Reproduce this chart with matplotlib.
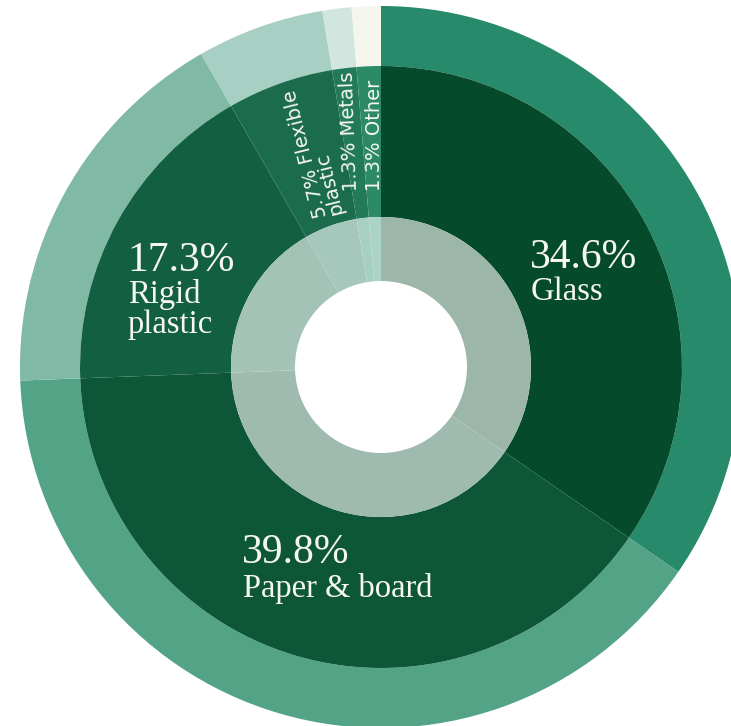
import numpy as np
import matplotlib.pyplot as plt

# Packaging material shares (%), clockwise from 12 o'clock
materials = ["Glass", "Paper & board", "Rigid plastic", "Flexible plastic", "Metals", "Other"]
shares = [34.6, 39.8, 17.3, 5.7, 1.3, 1.3]

outer_colors = ["#268a6b", "#53a487", "#80b9a5", "#a8cfc3", "#d2e6e0", "#f5f6ee"]
middle_colors = ["#064a2c", "#0d5638", "#135f42", "#1b6b4d", "#237a5b", "#2c8a69"]
inner_colors = ["#9cb6aa", "#9fbaae", "#a3c3b7", "#a5c7bc", "#a8cfc3", "#abd3c6"]

W, H = 731, 726
cx, cy = 381, 367  # centre of the rings in pixels

fig = plt.figure(figsize=(W / 100, H / 100), dpi=100)
ax = fig.add_axes([0, 0, 1, 1])


def ring(radius, width, colors):
    ax.pie(shares, radius=radius, startangle=90, counterclock=False, colors=colors,
           wedgeprops=dict(width=width, edgecolor="none", linewidth=0, antialiased=True))


ring(361, 60, outer_colors)
ring(301, 151, middle_colors)
ring(150, 64, inner_colors)

ax.set_xlim(-cx, W - cx)
ax.set_ylim(-(H - cy), cy)
ax.set_aspect("auto")
ax.axis("off")


def px(x, y):
    # pixel position -> data position
    return x - cx, cy - y


serif = "Liberation Serif"
txt = "#f7f7f2"

# big labels
big = [("34.6%", "Glass", None, 530, 268, 300, None),
       ("17.3%", "Rigid", "plastic", 127, 271, 303, 333),
       ("39.8%", "Paper & board", None, 242, 563, 597, None)]
for pct, l1, l2, x, y0, y1, y2 in big:
    ax.text(*px(x, y0), pct, fontsize=30, family=serif, color=txt, ha="left", va="baseline")
    ax.text(*px(x + 1, y1), l1, fontsize=23.5, family=serif, color=txt, ha="left", va="baseline")
    if l2:
        ax.text(*px(x + 1, y2), l2, fontsize=23.5, family=serif, color=txt, ha="left", va="baseline")

# small rotated labels
sans = "DejaVu Sans"
ax.text(*px(312, 220), "5.7% Flexible\nplastic", fontsize=14, family=sans, color=txt,
        rotation=104, rotation_mode="anchor", ha="left", va="top", linespacing=0.8)
ax.text(*px(352, 191), "1.3% Metals", fontsize=14, family=sans, color=txt,
        rotation=92, rotation_mode="anchor", ha="left", va="center")
ax.text(*px(374, 191), "1.3% Other", fontsize=14, family=sans, color=txt,
        rotation=90, rotation_mode="anchor", ha="left", va="center")

fig.savefig("out.png", dpi=100, facecolor="white")
